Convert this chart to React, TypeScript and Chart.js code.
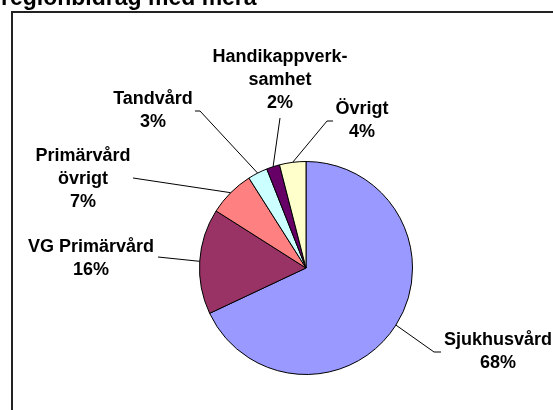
import React, { useEffect, useRef } from "react";
import { Chart, registerables } from "chart.js";

Chart.register(...registerables);

const titleText = "regionbidrag med mera";
const categories = [
  "Sjukhusvård",
  "VG Primärvård",
  "Primärvård\növrigt",
  "Tandvård",
  "Handikappverk-\nsamhet",
  "Övrigt",
];
const values = [68, 16, 7, 3, 2, 4];
const colors = ["#9999FF", "#993366", "#FF8080", "#CCFFFF", "#660066", "#FFFFCC"];

// label layout: offsets (px) from pie centre; leader = points from label side toward the slice
const labelLayout = [
  { dx: 192, dy: 72, leader: [[135, 84], [128, 84]] },
  { dx: -215, dy: -21, leader: [[-148, -11]] },
  { dx: -223, dy: -112, leader: [[-173, -90]] },
  { dx: -153, dy: -169, leader: [[-111, -157], [-106, -157]] },
  { dx: -26, dy: -211, leader: [[-26, -150]] },
  { dx: 56, dy: -159, leader: [[27, -147], [21, -147]] },
];

const FONT = "bold 18px 'Liberation Sans', Arial, sans-serif";
const LINE_H = 23;

const decorPlugin = {
  id: "decor",
  beforeDraw(chart: any) {
    const ctx = chart.ctx;
    ctx.save();
    ctx.fillStyle = "#fff";
    ctx.fillRect(0, 0, chart.width, chart.height);
    ctx.strokeStyle = "#222";
    ctx.lineWidth = 2;
    ctx.strokeRect(12, 12, chart.width + 20, chart.height + 20);
    ctx.fillStyle = "#000";
    ctx.font = "bold 23px 'Liberation Sans', Arial, sans-serif";
    ctx.textAlign = "left";
    ctx.textBaseline = "alphabetic";
    ctx.fillText(titleText, 1, 5);
    ctx.restore();
  },
  afterDatasetsDraw(chart: any) {
    const ctx = chart.ctx;
    const meta = chart.getDatasetMeta(0);
    const data = chart.data.datasets[0].data as number[];
    const total = data.reduce((a, b) => a + b, 0);
    ctx.save();
    meta.data.forEach((arc: any, i: number) => {
      const { x, y, startAngle, endAngle, outerRadius } = arc.getProps(
        ["x", "y", "startAngle", "endAngle", "outerRadius"],
        true
      );
      const mid = (startAngle + endAngle) / 2;
      const px = x + Math.cos(mid) * outerRadius;
      const py = y + Math.sin(mid) * outerRadius;
      const lay = labelLayout[i];
      ctx.strokeStyle = "#000";
      ctx.lineWidth = 1;
      ctx.beginPath();
      lay.leader.forEach((p, k) => {
        if (k === 0) ctx.moveTo(x + p[0], y + p[1]);
        else ctx.lineTo(x + p[0], y + p[1]);
      });
      ctx.lineTo(px, py);
      ctx.stroke();
      const lines = String(chart.data.labels[i]).split("\n");
      lines.push(Math.round((data[i] / total) * 100) + "%");
      ctx.fillStyle = "#000";
      ctx.font = FONT;
      ctx.textAlign = "center";
      ctx.textBaseline = "middle";
      lines.forEach((t, k) => {
        ctx.fillText(t, x + lay.dx, y + lay.dy + k * LINE_H);
      });
    });
    ctx.restore();
  },
};

export default function App() {
  const ref = useRef<HTMLCanvasElement | null>(null);
  useEffect(() => {
    document.body.style.margin = "0";
    const chart = new Chart(ref.current as HTMLCanvasElement, {
      type: "pie",
      data: {
        labels: categories,
        datasets: [
          {
            data: values,
            backgroundColor: colors,
            borderColor: "#000",
            borderWidth: 1,
          },
        ],
      },
      options: {
        animation: false,
        responsive: false,
        maintainAspectRatio: false,
        layout: { padding: { top: 161, bottom: 35, left: 199, right: 140 } },
        plugins: {
          legend: { display: false },
          tooltip: { enabled: false },
          title: { display: false },
        },
      },
      plugins: [decorPlugin],
    });
    return () => chart.destroy();
  }, []);
  return (
    <div style={{ position: "fixed", left: 0, top: 0, width: 553, height: 410 }}>
      <canvas ref={ref} width={553} height={410} />
    </div>
  );
}
